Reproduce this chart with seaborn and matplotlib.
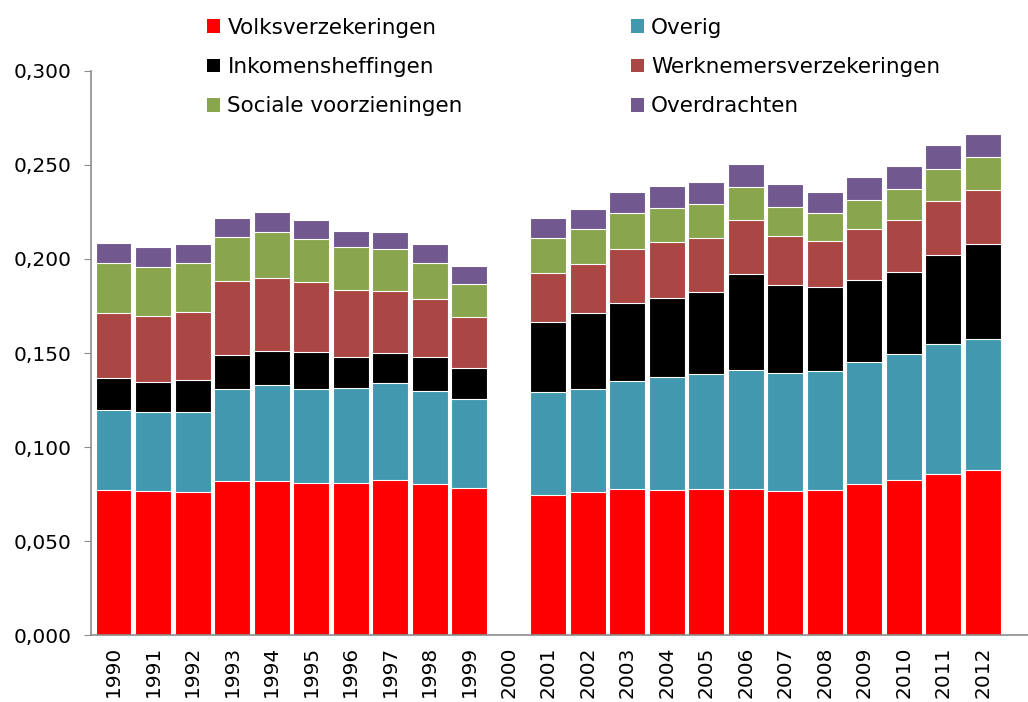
import numpy as np
import pandas as pd
import matplotlib
matplotlib.use("Agg")
import matplotlib.pyplot as plt
from matplotlib.patches import Patch
from matplotlib.ticker import FuncFormatter
import seaborn as sns

years = [str(y) for y in range(1990, 2013)]
nan = np.nan
volksverzekeringen = [0.0773, 0.0764, 0.0762, 0.0821, 0.0821, 0.0807, 0.0810, 0.0824, 0.0805, 0.0784, nan,
                      0.0743, 0.0759, 0.0775, 0.0771, 0.0775, 0.0775, 0.0768, 0.0770, 0.0805, 0.0826, 0.0858, 0.0879]
overig = [0.0424, 0.0420, 0.0424, 0.0486, 0.0509, 0.0503, 0.0502, 0.0515, 0.0495, 0.0473, nan,
          0.0548, 0.0551, 0.0578, 0.0600, 0.0612, 0.0636, 0.0627, 0.0634, 0.0647, 0.0670, 0.0690, 0.0695]
inkomensheffingen = [0.0172, 0.0163, 0.0170, 0.0182, 0.0179, 0.0195, 0.0165, 0.0163, 0.0180, 0.0165, nan,
                     0.0376, 0.0404, 0.0415, 0.0423, 0.0436, 0.0509, 0.0468, 0.0445, 0.0438, 0.0435, 0.0475, 0.0504]
werknemersverzekeringen = [0.0345, 0.0351, 0.0360, 0.0396, 0.0392, 0.0373, 0.0358, 0.0329, 0.0307, 0.0271, nan,
                           0.0257, 0.0261, 0.0285, 0.0296, 0.0290, 0.0289, 0.0261, 0.0248, 0.0271, 0.0278, 0.0284, 0.0287]
sociale_voorzieningen = [0.0266, 0.0261, 0.0263, 0.0230, 0.0244, 0.0230, 0.0227, 0.0222, 0.0190, 0.0172, nan,
                         0.0188, 0.0185, 0.0192, 0.0183, 0.0181, 0.0172, 0.0154, 0.0148, 0.0151, 0.0165, 0.0173, 0.0178]
overdrachten = [0.0107, 0.0103, 0.0099, 0.0105, 0.0105, 0.0098, 0.0089, 0.0092, 0.0101, 0.0098, nan,
                0.0106, 0.0104, 0.0111, 0.0115, 0.0116, 0.0124, 0.0119, 0.0113, 0.0122, 0.0121, 0.0126, 0.0120]

series_names = ["Volksverzekeringen", "Overig", "Inkomensheffingen",
                "Werknemersverzekeringen", "Sociale voorzieningen", "Overdrachten"]
series_values = [volksverzekeringen, overig, inkomensheffingen,
                 werknemersverzekeringen, sociale_voorzieningen, overdrachten]
colors = ["#FF0000", "#4198AF", "#000000", "#AA4643", "#89A54E", "#71588F"]

df = pd.DataFrame({n: v for n, v in zip(series_names, series_values)}, index=years)
cum = df.cumsum(axis=1)

sns.set_style("white")
plt.rcParams["font.family"] = ["DejaVu Sans"]
plt.rcParams["text.color"] = "black"
plt.rcParams["xtick.color"] = "black"
plt.rcParams["ytick.color"] = "black"

fig = plt.figure(figsize=(10.28, 7.02), dpi=100)
ax = fig.add_axes([0.0885, 0.0954, 0.9115, 0.8035])

# draw cumulative totals from top layer down so lower layers overlay
for name, col in reversed(list(zip(series_names, colors))):
    d = pd.DataFrame({"year": years, "value": cum[name].values})
    sns.barplot(data=d, x="year", y="value", order=years, color=col, saturation=1,
                width=0.91, edgecolor="white", linewidth=0.8, ax=ax, errorbar=None)

ax.set_ylim(0, 0.3)
ax.set_xlim(-0.57, 23.14)
ax.set_yticks(np.arange(0, 0.301, 0.05))
ax.yaxis.set_major_formatter(FuncFormatter(lambda v, p: f"{v:.3f}".replace(".", ",")))
ax.set_xlabel("")
ax.set_ylabel("")
for s in ["top", "right"]:
    ax.spines[s].set_visible(False)
for s in ["left", "bottom"]:
    ax.spines[s].set_color("#8c8c8c")
    ax.spines[s].set_linewidth(1.2)
ax.tick_params(axis="y", which="both", left=True, length=5, color="#8c8c8c",
               labelcolor="black", labelsize=14.5, pad=9)
ax.tick_params(axis="x", length=0, labelsize=14.5, labelcolor="black", pad=8, labelrotation=90)
ax.grid(False)

order = [0, 2, 4, 1, 3, 5]
handles = [Patch(facecolor=colors[i], edgecolor="none") for i in order]
labels = [series_names[i] for i in order]
leg = fig.legend(handles, labels, ncol=2, loc="upper left", bbox_to_anchor=(0.193, 0.987),
                 frameon=False, fontsize=15.5, handlelength=0.6, handleheight=0.6,
                 handletextpad=0.35, columnspacing=7.8, labelspacing=0.9, borderaxespad=0)
for t in leg.get_texts():
    t.set_color("black")

fig.savefig("out.png", dpi=100)
